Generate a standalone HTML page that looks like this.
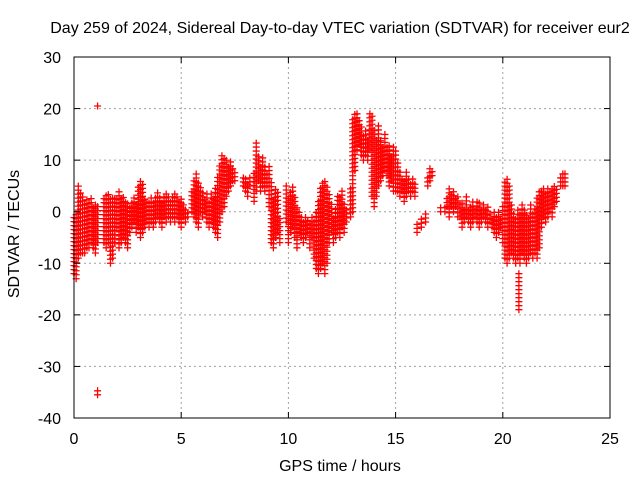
<!DOCTYPE html>
<html><head><meta charset="utf-8"><style>
html,body{margin:0;padding:0;background:#fff;}
svg{display:block;font-family:"Liberation Sans",sans-serif;}
</style></head><body>
<svg id="chart" width="640" height="480" viewBox="0 0 640 480">
<rect width="640" height="480" fill="#fff"/>
<text x="340" y="33" font-size="16" text-anchor="middle">Day 259 of 2024, Sidereal Day-to-day VTEC variation (SDTVAR) for receiver eur2</text>
<g id="grid"></g>
<g id="marks"></g>
<g id="axes"></g>
<text x="340" y="471" font-size="16" text-anchor="middle">GPS time / hours</text>
<text x="0" y="0" font-size="16" text-anchor="middle" transform="translate(19,234) rotate(-90)">SDTVAR / TECUs</text>
</svg>
<script>
const xTicks=[0,5,10,15,20,25];
const yTicks=[-40,-30,-20,-10,0,10,20,30];
// binned data: time (h), lowest value, highest value (TECU)
const times=[0.0,0.1,0.2,0.3,0.4,0.5,0.6,0.7,0.8,0.9,1.0,1.1,1.4,1.5,1.6,1.7,1.8,1.9,2.0,2.1,2.2,2.3,2.4,2.5,2.6,2.7,2.8,2.9,3.0,3.1,3.2,3.3,3.4,3.5,3.6,3.7,3.8,3.9,4.0,4.1,4.2,4.3,4.4,4.5,4.6,4.7,4.8,4.9,5.0,5.1,5.2,5.3,5.5,5.6,5.7,5.8,5.9,6.0,6.1,6.2,6.3,6.4,6.5,6.6,6.7,6.8,6.9,7.0,7.1,7.2,7.3,7.4,7.5,7.9,8.0,8.1,8.2,8.4,8.5,8.6,8.7,8.8,8.9,9.0,9.1,9.2,9.3,9.4,9.5,9.6,9.9,10.0,10.1,10.2,10.3,10.4,10.5,10.6,10.7,10.8,10.9,11.0,11.1,11.2,11.3,11.4,11.5,11.6,11.7,11.8,11.9,12.0,12.1,12.2,12.3,12.4,12.5,12.6,12.7,12.9,13.0,13.1,13.2,13.3,13.4,13.5,13.6,13.7,13.8,13.9,14.0,14.1,14.2,14.3,14.4,14.5,14.6,14.7,14.8,14.9,15.0,15.1,15.2,15.3,15.4,15.5,15.6,15.7,15.8,15.9,16.0,16.2,16.4,16.5,16.6,16.7,17.1,17.3,17.4,17.5,17.6,17.7,17.8,17.9,18.0,18.1,18.2,18.3,18.4,18.5,18.6,18.7,18.8,18.9,19.0,19.1,19.2,19.3,19.4,19.5,19.6,19.7,19.8,19.9,20.0,20.1,20.2,20.3,20.4,20.5,20.6,20.7,20.75,20.8,20.9,21.0,21.1,21.2,21.3,21.4,21.5,21.6,21.7,21.8,21.9,22.0,22.1,22.2,22.3,22.4,22.5,22.7,22.8,22.9,1.1,1.1];
const lows=[-12,-13,-9,-8,-8,-8,-7,-7,-6,-7,-8,-6,-6,-7,-6,-10,-9,-6,-3,-7,-6,-5,-6,-7,-4,-3,-2,-4,-3,-5,-4,-3,-2,-3,-2,-3,-2,-1,-2,-3,-1,-2,-1,-2,-1,-2,-1,-2,-3,-1,-2,-1,0,-1,-2,-3,0,-1,0,-2,-3,-2,-3,-4,-5,-2,0,1,3,4,5,6,6,5,4,3,5,2,4,6,4,5,4,5,1,-6,-7,-5,-4,-6,-2,-6,-4,-3,-5,-7,-4,-5,-6,-5,-4,-7,-5,-9,-11,-12,-11,-10,-12,-10,-6,-4,-6,-5,-4,-5,-3,-4,-2,-1,0,8,12,13,11,10,11,10,12,3,1,3,5,6,7,8,7,5,6,4,4,4,3,4,2,3,4,3,4,3,-4,-3,-2,5,6,7,0,0,1,-1,1,0,1,-1,-1,-3,-2,-1,-2,-3,-2,-1,-2,-3,-2,-1,-2,-3,-2,-3,-4,-5,-4,-3,-6,-9,-10,-9,-8,-9,-10,-9,-19,-10,-8,-9,-10,-9,-8,-9,-8,-9,-7,-3,-1,-2,-1,0,-1,1,2,5,5,5,-35.5,20.5];
const highs=[-1,0,5,4,3,2,3,2,3,1,2,1,3,3.5,3.5,3,3,3,3,4,3,3,2,2,1,2,3,2,5,6.5,6,3,2,2,3,2,3,4,3,2,3,4,3,2,3,4,3,2,3,2,1,0,4,6,7.5,6,5,4,3,4,2,4,3,5,7,9,11,11,10,9,10,9,8,7,7,6,7,8,13.5,11,9,10.5,9,8,9,6,3,5,4,-1,5,3,4,5.5,3,1,0,-1,-2,-1,-1,-2,-1,-2,0,2,5,6,6,5,4,2,-1,1,3,3,4,2,1,5,18,19,19,18,17,15,16,14,19,19,16,14,17,14,13,15,13,13,11,13,12,10,8,7,6,8,7,6,7,6,-2,-1,0,7,8.5,8,1,1,3,5,4,4,3,3,2,2,1,3,1,1,2,1,2,2,1,2,1,1,0,-1,0,-1,0,-1,1,6,7,5,2,0,-1,1,-12,0,2,1,0,-1,2,0,1,3,4,4,5,4,5,4,5,5,5,7,8,8,-34,20.5];

const X0=74,X1=610,Y0=418,Y1=57;
const xs=t=>X0+(t-0)/(25-0)*(X1-X0);
const ys=v=>Y0-(v+40)/(70)*(Y0-Y1);
const NS='http://www.w3.org/2000/svg';
const grid=document.getElementById('grid'),axes=document.getElementById('axes'),marks=document.getElementById('marks');
function mk(tag,attrs,parent){const e=document.createElementNS(NS,tag);for(const k in attrs)e.setAttribute(k,attrs[k]);parent.appendChild(e);return e;}
xTicks.forEach(t=>{
  const x=xs(t);
  if(t>0&&t<25){const l=mk('line',{x1:x,x2:x,y1:Y1,y2:Y0,stroke:'#a0a0a0','stroke-dasharray':'2,3'},grid);
  
  }
  const a=mk('line',{x1:x,x2:x,y1:Y0,y2:Y0-6,stroke:'#000'},axes);
  
  
  const b=mk('line',{x1:x,x2:x,y1:Y1,y2:Y1+6,stroke:'#000'},axes);
  
  
  const tx=mk('text',{x:x,y:444,'font-size':'16','text-anchor':'middle'},axes);tx.textContent=t;
  
  
});
yTicks.forEach(v=>{
  const y=ys(v);
  if(v>-40&&v<30){const l=mk('line',{x1:X0,x2:X1,y1:y,y2:y,stroke:'#a0a0a0','stroke-dasharray':'2,3'},grid);
  
  }
  const a=mk('line',{x1:X0,x2:X0+6,y1:y,y2:y,stroke:'#000'},axes);
  
  
  const b=mk('line',{x1:X1,x2:X1-6,y1:y,y2:y,stroke:'#000'},axes);
  
  
  const tx=mk('text',{x:61,y:y+6,'font-size':'16','text-anchor':'end'},axes);tx.textContent=v;
  
  
});
const box=mk('rect',{x:X0,y:Y1,width:X1-X0,height:Y0-Y1,fill:'none',stroke:'#000'},axes);


// markers: plus signs filling each bin's range
times.forEach((t,i)=>{
  const x=xs(t);let d='';
  const top=ys(highs[i]),bot=ys(lows[i]);
  for(let y=bot;y>=top-0.01;y-=4){d+=`M${x-3.5},${y}h7M${x},${y-3.5}v7`;}
  if(bot-top<4)d+=`M${x-3.5},${top}h7M${x},${top-3.5}v7`;
  const p=mk('path',{d:d,stroke:'#f00','stroke-width':'1.3',fill:'none'},marks);
  
  
});
</script>
</body></html>
